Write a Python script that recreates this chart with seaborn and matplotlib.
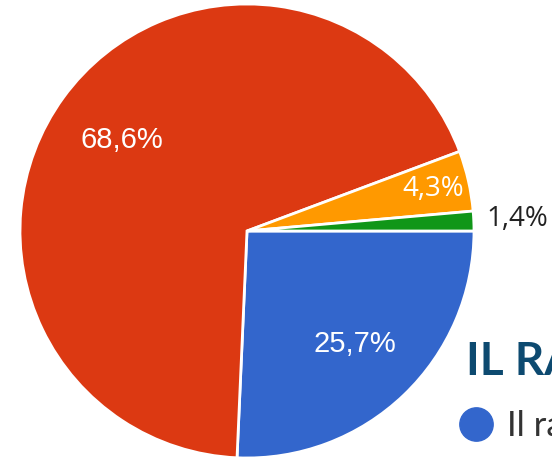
import numpy as np
import matplotlib
matplotlib.use("Agg")
import matplotlib.pyplot as plt
from matplotlib.lines import Line2D
import seaborn as sns

# dati
categorie = ["Il rapporto", "Categoria B", "Categoria C", "Categoria D"]
valori = [25.7, 68.6, 4.3, 1.4]
colori = ["#3366cc", "#dc3912", "#ff9900", "#109618"]
# distanza dell'etichetta dal centro (frazione del raggio)
dist_etichette = [0.69, 0.68, 0.84, 1.19]
titolo = "IL RAPPORTO"
voce_legenda = "Il rapporto"

sns.set_style("white")

W, H = 552, 458
fig = plt.figure(figsize=(W / 100, H / 100), dpi=100)
ax = fig.add_axes([0, 0, 1, 1])
ax.set_xlim(0, W)
ax.set_ylim(0, H)
ax.set_aspect("equal")
ax.axis("off")

raggio = 227
centro = (247, H - 231)

wedges, _ = ax.pie(valori, colors=colori, startangle=0, counterclock=False,
                   radius=raggio, center=centro, frame=True,
                   wedgeprops=dict(edgecolor="white", linewidth=2))
ax.set_xlim(0, W)
ax.set_ylim(0, H)
ax.axis("off")

for w, v, d in zip(wedges, valori, dist_etichette):
    ang = np.deg2rad((w.theta1 + w.theta2) / 2)
    x = centro[0] + d * raggio * np.cos(ang)
    y = centro[1] + d * raggio * np.sin(ang)
    testo = f"{v:.1f}".replace(".", ",") + "%"
    if v > 10:
        ax.text(x, y, testo, color="white", fontsize=21, family="Liberation Sans",
                ha="center", va="center")
    else:
        col = "white" if d < 1 else "#222222"
        ax.text(x, y, testo, color=col, fontsize=20, family="Open Sans",
                ha="center", va="center")

# titolo (tagliato dal bordo come nell'originale)
fig.text(466 / W, 1 - 362 / H, titolo, color="#0d4a70", fontsize=33,
         fontweight="bold", family="Lato", ha="left", va="center")

# legenda
h = Line2D([], [], marker="o", linestyle="none", markersize=24,
           markerfacecolor=colori[0], markeredgecolor=colori[0])
leg = fig.legend([h], [voce_legenda], loc="center left",
                 bbox_to_anchor=(455 / W, 1 - 426 / H), frameon=False,
                 prop=dict(family="Lato", size=25), handletextpad=0.3,
                 borderpad=0, borderaxespad=0, handlelength=1.2)
for t in leg.get_texts():
    t.set_color("#333333")

fig.savefig("out.png", dpi=100)
